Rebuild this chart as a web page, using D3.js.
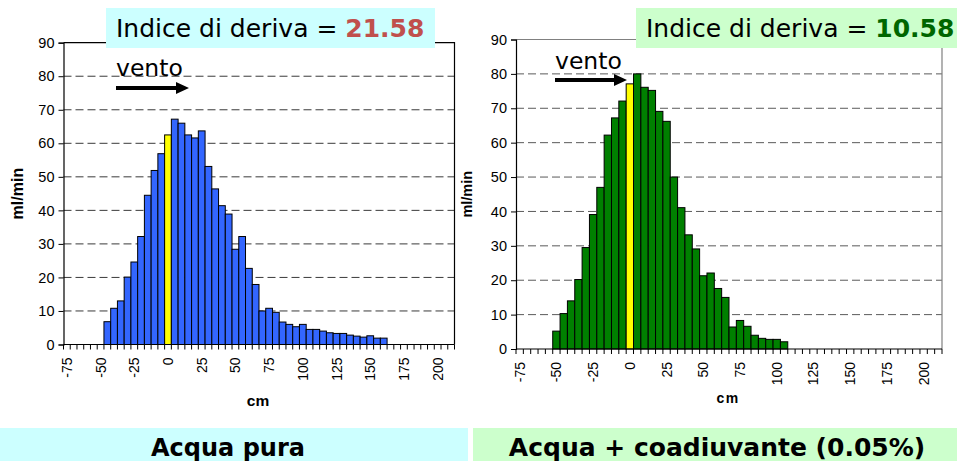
<!DOCTYPE html>
<html>
<head>
<meta charset="utf-8">
<script src="https://cdn.jsdelivr.net/npm/d3@7/dist/d3.min.js"></script>
<style>
  html, body { margin: 0; padding: 0; background: #fff; }
  svg { display: block; }
</style>
</head>
<body>
<svg id="chart" width="957" height="461"></svg>
<script>
// Distance bins (cm), one bar per 5 cm class
const categories = [-75, -70, -65, -60, -55, -50, -45, -40, -35, -30, -25, -20, -15, -10, -5,
  0, 5, 10, 15, 20, 25, 30, 35, 40, 45, 50, 55, 60, 65, 70, 75, 80, 85, 90, 95, 100,
  105, 110, 115, 120, 125, 130, 135, 140, 145, 150, 155, 160, 165, 170, 175, 180, 185,
  190, 195, 200, 205, 210];

// Flow collected per bin (ml/min) — plain water
const acquaPura = [0, 0, 0, 0, 0, 0, 6.8, 10.8, 13.0, 20.1, 24.6, 32.2, 44.5, 51.9, 56.9,
  62.5, 67.2, 66.0, 62.5, 61.6, 63.7, 53.1, 46.4, 41.4, 38.9, 28.4, 32.2, 22.7, 17.9, 10.0,
  10.8, 9.6, 6.7, 6.0, 5.3, 6.0, 4.5, 4.5, 4.0, 3.5, 3.3, 3.3, 2.8, 2.5, 2.2, 2.6, 1.9, 1.9,
  0, 0, 0, 0, 0, 0, 0, 0, 0, 0];

// Flow collected per bin (ml/min) — water + adjuvant
const acquaCoadiuvante = [0, 0, 0, 0, 0, 5.2, 10.3, 14.0, 20.2, 29.5, 39.1, 47.0, 62.2, 67.2, 72.1,
  77.1, 80.0, 76.1, 75.2, 69.1, 66.2, 50.0, 41.1, 33.2, 29.1, 21.3, 22.1, 17.6, 15.0, 6.4,
  8.3, 6.6, 4.0, 3.1, 2.8, 2.8, 2.1, 0, 0, 0, 0, 0, 0, 0, 0, 0, 0, 0, 0, 0, 0, 0, 0, 0, 0, 0, 0, 0];

const xTickLabels = [-75, -50, -25, 0, 25, 50, 75, 100, 125, 150, 175, 200];
const yTicks = [0, 10, 20, 30, 40, 50, 60, 70, 80, 90];
const yGrid = [10, 20, 30, 40, 50, 60, 70, 80];

const panels = [
  {
    values: acquaPura, left: 63.5, right: 454.5, top: 42.7, bottom: 344.5,
    fill: "#3366ff", frame: "#000", grid: "#3a3a3a",
    index: "21.58", indexColor: "#c0504d", boxFill: "#ccffff",
    box: [106, 8, 329, 40], boxText: 116,
    vento: [116, 76], arrow: [116, 88, 189],
    yTitleX: 23, yTitleSize: 16, cmX: 258, cmY: 406, cmSize: 15.5, cmSpacing: 0,
    caption: "Acqua pura", capBox: [0, 428, 468, 33], capX: 228, capSize: 24
  },
  {
    values: acquaCoadiuvante, left: 516, right: 942, top: 39.5, bottom: 349,
    fill: "#008000", frame: "#808080", grid: "#5a5a5a",
    index: "10.58", indexColor: "#006600", boxFill: "#ccffcc",
    box: [636, 8, 321, 40], boxText: 646,
    vento: [555, 69], arrow: [555, 80, 627],
    yTitleX: 472, yTitleSize: 14.5, cmX: 728, cmY: 403, cmSize: 14, cmSpacing: 1.5,
    caption: "Acqua + coadiuvante (0.05%)", capBox: [473, 428, 484, 33], capX: 717, capSize: 25
  }
];

const svg = d3.select("#chart");

panels.forEach(p => {
  const g = svg.append("g");
  const x = d3.scaleBand().domain(categories).range([p.left, p.right]).padding(0);
  const y = d3.scaleLinear().domain([0, 90]).range([p.bottom, p.top]);

  // dashed horizontal gridlines
  g.selectAll("line.grid").data(yGrid).join("line")
    .attr("x1", p.left).attr("x2", p.right)
    .attr("y1", d => y(d)).attr("y2", d => y(d))
    .attr("stroke", p.grid).attr("stroke-width", 1)
    .attr("stroke-dasharray", "8,4");

  // frame: top and right edges
  g.append("path")
    .attr("d", `M${p.left},${y(90)}H${p.right}V${y(0)}`)
    .attr("fill", "none").attr("stroke", p.frame).attr("stroke-width", 1.2);

  // bars
  const data = categories.map((c, i) => ({ c, v: p.values[i] })).filter(d => d.v > 0);
  g.selectAll("rect.bar").data(data).join("rect")
    .attr("x", d => x(d.c))
    .attr("y", d => y(d.v))
    .attr("width", x.bandwidth())
    .attr("height", d => y(0) - y(d.v))
    .attr("fill", d => d.c === 0 ? "#ffff00" : p.fill)
    .attr("stroke", "#000").attr("stroke-width", 1);

  // y axis
  const ya = g.append("g").attr("transform", `translate(${p.left},0)`)
    .call(d3.axisLeft(y).tickValues(yTicks).tickSize(5).tickPadding(4));
  ya.select(".domain").attr("stroke", "#000").attr("stroke-width", 1.2);
  ya.selectAll(".tick line").attr("stroke", "#000");
  ya.selectAll("text").attr("font-family", "Liberation Sans, Arial, sans-serif")
    .attr("font-size", 14.5).attr("fill", "#000");

  // x axis: tick marks on bin boundaries, labels every 25 cm
  g.append("line")
    .attr("x1", p.left).attr("x2", p.right)
    .attr("y1", y(0)).attr("y2", y(0))
    .attr("stroke", "#000").attr("stroke-width", 1.2);
  const edges = categories.map(c => x(c)).concat([x(categories[categories.length - 1]) + x.bandwidth()]);
  g.selectAll("line.xtick").data(edges).join("line")
    .attr("x1", d => d).attr("x2", d => d)
    .attr("y1", y(0)).attr("y2", y(0) + 5)
    .attr("stroke", "#000").attr("stroke-width", 1);

  const xa = g.append("g").attr("transform", `translate(0,${y(0)})`)
    .call(d3.axisBottom(x).tickValues(xTickLabels).tickSize(0).tickPadding(0));
  xa.select(".domain").remove();
  xa.selectAll(".tick text")
    .attr("font-family", "Liberation Sans, Arial, sans-serif")
    .attr("font-size", 14).attr("fill", "#000")
    .attr("text-anchor", "end")
    .attr("dy", null)
    .attr("transform", "translate(5,13) rotate(-90)");

  // axis titles
  g.append("text")
    .attr("transform", `translate(${p.yTitleX},${(y(0) + y(90)) / 2}) rotate(-90)`)
    .attr("text-anchor", "middle")
    .attr("font-family", "Liberation Sans, Arial, sans-serif")
    .attr("font-weight", "bold").attr("font-size", p.yTitleSize)
    .text("ml/min");
  g.append("text")
    .attr("x", p.cmX).attr("y", p.cmY)
    .attr("text-anchor", "middle")
    .attr("font-family", "Liberation Sans, Arial, sans-serif")
    .attr("font-weight", "bold").attr("font-size", p.cmSize)
    .attr("letter-spacing", p.cmSpacing)
    .text("cm");

  // wind direction
  g.append("text")
    .attr("x", p.vento[0]).attr("y", p.vento[1])
    .attr("font-family", "DejaVu Sans, Verdana, sans-serif")
    .attr("font-size", 23.5).attr("fill", "#000")
    .text("vento");
  const [ax, ay, aend] = p.arrow;
  g.append("path")
    .attr("d", `M${ax},${ay - 2}H${aend - 13}V${ay - 6}L${aend},${ay}L${aend - 13},${ay + 6}V${ay + 2}H${ax}Z`)
    .attr("fill", "#000");

  // drift index box
  g.append("rect")
    .attr("x", p.box[0]).attr("y", p.box[1]).attr("width", p.box[2]).attr("height", p.box[3])
    .attr("fill", p.boxFill);
  const t = g.append("text")
    .attr("x", p.boxText).attr("y", 37)
    .attr("font-family", "DejaVu Sans, Verdana, sans-serif")
    .attr("font-size", 25).attr("fill", "#000");
  t.append("tspan").text("Indice di deriva = ");
  t.append("tspan").attr("font-weight", "bold").attr("fill", p.indexColor).text(p.index);

  // caption banner
  g.append("rect")
    .attr("x", p.capBox[0]).attr("y", p.capBox[1]).attr("width", p.capBox[2]).attr("height", p.capBox[3])
    .attr("fill", p.boxFill);
  g.append("text")
    .attr("x", p.capX).attr("y", 456)
    .attr("text-anchor", "middle")
    .attr("font-family", "DejaVu Sans, Verdana, sans-serif")
    .attr("font-weight", "bold").attr("font-size", p.capSize).attr("fill", "#000")
    .text(p.caption);
});
</script>
</body>
</html>
